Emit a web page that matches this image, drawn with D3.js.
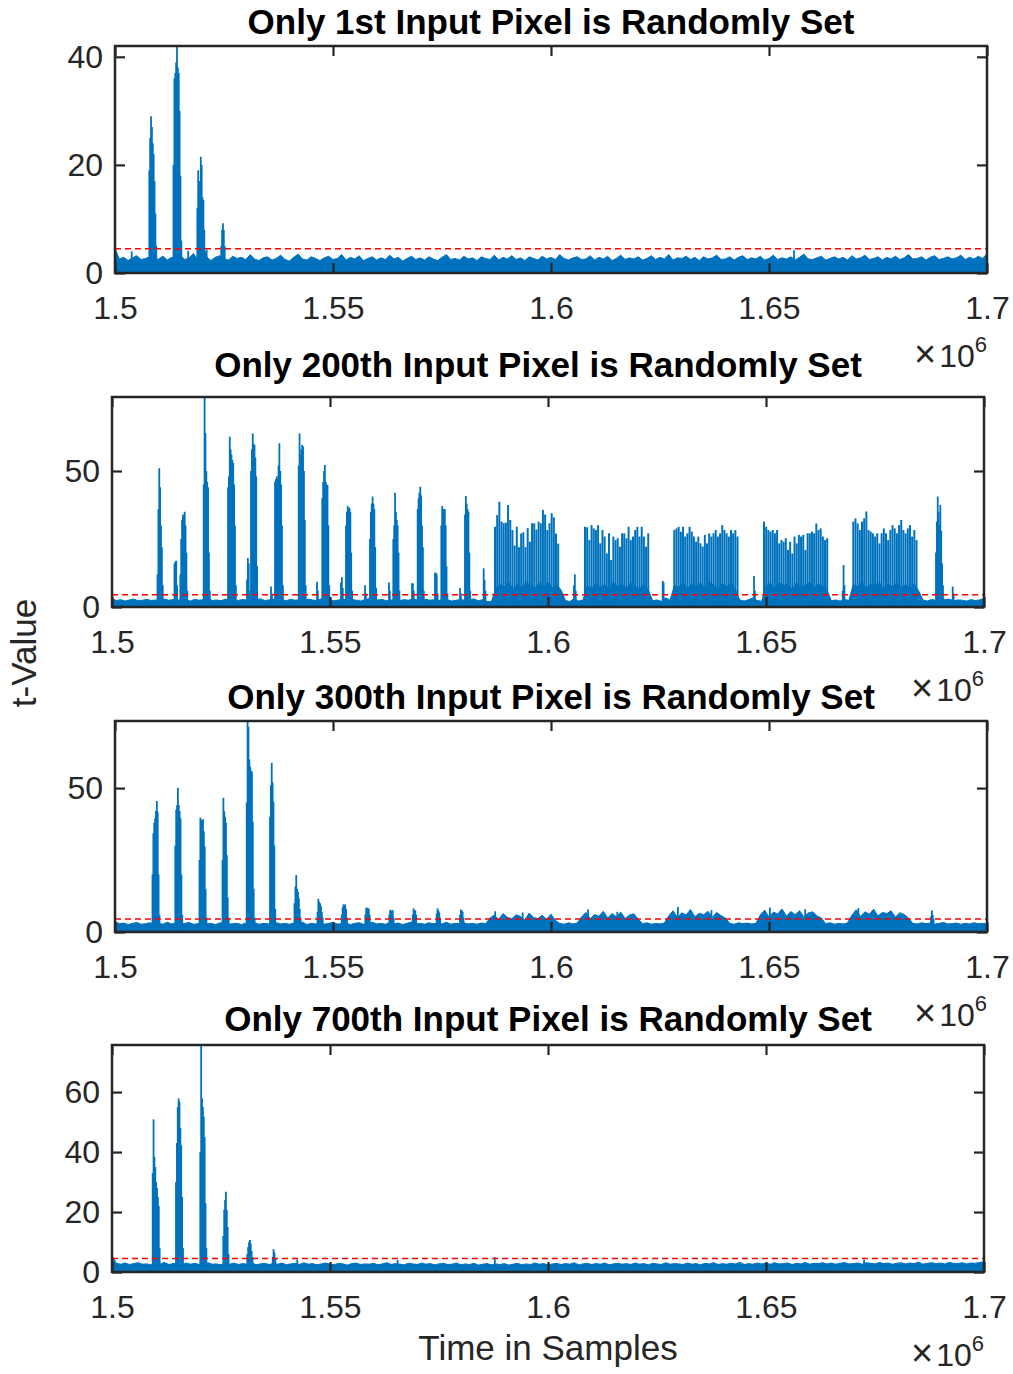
<!DOCTYPE html>
<html>
<head>
<meta charset="utf-8">
<script src="https://cdn.jsdelivr.net/npm/d3@7"></script>
<style>
  body { margin: 0; background: #fff; }
  svg text { font-family: "Liberation Sans", Arial, Helvetica, sans-serif; }
</style>
</head>
<body>
<svg id="chart" width="1013" height="1374"></svg>
<script>
// ---- data (x in units of 1e6 samples) ----
const titles = [
  'Only 1st Input Pixel is Randomly Set',
  'Only 200th Input Pixel is Randomly Set',
  'Only 300th Input Pixel is Randomly Set',
  'Only 700th Input Pixel is Randomly Set'
];
const xDomain = [1.5, 1.7];
const xTicks = [1.5, 1.55, 1.6, 1.65, 1.7];
const yTicks1 = [0, 20, 40];
const yTicks2 = [0, 50];
const yTicks3 = [0, 50];
const yTicks4 = [0, 20, 40, 60];
const threshold = 4.5;

// noise floor envelope, one value every 1000 samples from 1.5e6
const noiseStart = 1.5;
const noiseStep = 0.001;
const noise1 = [
  4.5, 2.6, 2.9, 2.3, 2.8, 3.2, 2.5, 2.7, 3.0, 2.4,
  2.6, 3.1, 2.4, 2.9, 2.7, 3.3, 2.5, 2.8, 3.6, 2.4,
  2.7, 3.0, 2.3, 2.9, 3.2, 2.6, 2.4, 3.1, 2.7, 2.9,
  2.5, 3.4, 2.6, 2.3, 2.8, 3.0, 2.4, 2.7, 3.3, 2.5,
  2.2, 2.9, 3.5, 2.6, 2.4, 3.0, 2.7, 2.3, 2.8, 3.1,
  2.5, 2.7, 3.4, 2.4, 2.9, 2.6, 3.2, 2.3, 2.7, 3.0,
  2.4, 2.8, 2.5, 3.3, 2.6, 2.9, 2.2, 2.7, 3.1, 2.5,
  2.8, 2.4, 3.0, 2.6, 2.3, 2.9, 3.4, 2.5, 2.7, 2.4,
  3.1, 2.6, 2.8, 2.3, 3.0, 2.7, 2.5, 3.3, 2.4, 2.9,
  2.6, 3.2, 2.5, 2.8, 2.3, 3.0, 2.7, 2.4, 3.1, 2.6,
  2.9, 2.5, 3.4, 2.7, 2.4, 2.8, 3.0, 2.5, 2.6, 3.2,
  2.4, 2.9, 2.6, 3.1, 2.3, 2.7, 3.3, 2.5, 2.8, 2.6,
  3.0, 2.4, 2.7, 3.2, 2.5, 2.9, 2.6, 3.4, 2.4, 2.8,
  2.7, 3.1, 2.5, 2.9, 2.3, 3.0, 2.6, 2.8, 3.3, 2.5,
  2.6, 3.0, 2.4, 2.9, 3.2, 2.5, 2.8, 2.6, 3.1, 2.4,
  2.7, 3.3, 2.5, 2.8, 2.6, 3.0, 2.4, 2.9, 3.5, 2.6,
  2.5, 2.8, 3.1, 2.4, 2.7, 3.0, 2.6, 2.9, 2.4, 3.2,
  2.6, 2.8, 3.3, 2.5, 2.7, 3.0, 2.4, 2.9, 2.6, 3.1,
  2.5, 2.8, 3.4, 2.6, 2.7, 3.0, 2.4, 2.9, 3.2, 2.5,
  2.7, 3.0, 2.6, 2.8, 3.3, 2.5, 2.9, 2.6, 3.1, 2.7, 3.6
];
const noise2 = [
  3.0, 2.4, 2.7, 2.2, 2.6, 2.9, 2.3, 2.5, 2.8, 2.4,
  2.6, 2.3, 2.9, 2.5, 2.7, 2.4, 3.0, 2.6, 2.2, 2.8,
  2.5, 2.7, 3.1, 2.4, 2.6, 2.3, 2.9, 2.5, 2.7, 2.4,
  2.8, 2.5, 2.3, 2.7, 3.0, 2.4, 2.6, 2.9, 2.3, 2.6,
  2.4, 2.8, 2.5, 2.7, 2.2, 2.9, 2.6, 2.4, 3.0, 2.5,
  2.7, 2.3, 2.6, 2.9, 2.4, 2.8, 2.5, 2.2, 2.7, 3.1,
  2.4, 2.6, 2.8, 2.3, 2.5, 2.9, 2.4, 2.7, 2.5, 3.0,
  2.6, 2.3, 2.8, 2.5, 2.7, 2.4, 2.9, 2.6, 2.2, 2.5,
  2.8, 2.4, 2.6, 3.0, 2.3, 2.7, 2.1, 1.9,
  6.5, 8.2, 7.4, 9.0, 6.8, 8.5, 7.2, 9.3, 7.8, 6.9, 8.7, 7.5, 9.1, 7.0, 8.4, 6.2,
  2.4, 2.0, 3.1, 2.2, 2.5,
  7.8, 6.9, 8.8, 7.3, 8.1, 6.6, 9.2, 7.5, 8.4, 7.0, 8.9, 7.7, 6.8, 8.3, 6.4,
  2.3, 2.6, 2.1, 3.4, 2.5,
  8.0, 7.2, 9.0, 6.8, 8.5, 7.6, 8.8, 7.1, 9.4, 7.9, 6.7, 8.6, 7.4, 8.9, 6.3,
  2.5, 2.2, 2.7, 3.3, 2.4, 2.1,
  7.6, 8.7, 6.9, 9.1, 7.8, 8.3, 6.6, 8.9, 7.3, 8.0, 9.2, 7.0, 8.4, 7.5, 6.1,
  2.3, 2.6, 2.2, 2.8, 2.4,
  8.2, 7.4, 9.3, 7.0, 8.6, 7.7, 9.0, 6.8, 8.4, 7.5, 8.9, 7.2, 8.1, 6.9, 8.5, 6.0,
  2.6, 2.2, 2.8, 2.4, 3.3, 2.7, 2.9, 2.3, 2.6, 2.5, 2.2, 2.7, 2.4, 2.6, 3.2
];
const noise3 = [
  3.6, 2.9, 3.1, 2.6, 3.0, 3.3, 2.7, 2.9, 3.2, 2.8,
  3.0, 2.7, 3.4, 2.8, 3.1, 2.6, 3.0, 3.3, 2.7, 2.9,
  3.2, 2.8, 3.0, 2.6, 3.1, 3.4, 2.7, 2.9, 3.0, 2.6,
  3.1, 2.8, 3.3, 2.7, 3.0, 2.9, 2.6, 3.2, 2.8, 3.0,
  2.7, 3.1, 2.9, 3.4, 2.6, 3.0, 2.8, 3.2, 2.7, 3.0,
  3.3, 2.8, 2.9, 3.1, 2.6, 3.0, 3.2, 2.7, 2.9, 3.4,
  2.8, 3.0, 2.7, 3.3, 2.9, 3.1, 2.6, 3.0, 3.5, 2.8,
  3.0, 2.7, 3.2, 2.9, 3.1, 2.8, 3.4, 2.7, 3.0, 2.9,
  3.2, 2.8, 3.0, 2.7, 3.1, 2.9,
  4.8, 5.9, 4.3, 6.4, 5.1, 4.6, 6.0, 5.4, 4.2, 6.6, 5.0, 4.7, 5.8, 4.4, 6.2, 4.0,
  3.0, 2.7, 3.2, 2.8, 3.1,
  5.2, 6.8, 4.6, 6.1, 5.5, 7.2, 4.9, 6.4, 5.3, 6.9, 4.7, 5.9, 6.3, 4.5,
  2.9, 3.2, 2.7, 3.0, 2.8, 3.1,
  5.6, 7.4, 5.0, 6.7, 5.9, 7.8, 5.3, 6.5, 6.0, 7.2, 5.1, 6.8, 5.7, 4.8,
  3.0, 2.7, 3.2, 2.9, 3.1, 2.8, 3.0,
  5.9, 7.6, 5.2, 6.9, 6.3, 8.0, 5.5, 7.1, 6.0, 7.4, 5.3, 6.6, 7.0, 5.6, 4.9,
  2.9, 3.2, 2.7, 3.0, 2.8, 3.1,
  5.8, 7.7, 5.4, 7.0, 6.2, 7.9, 5.6, 6.8, 6.4, 7.3, 5.2, 6.7, 6.1, 4.8,
  3.0, 2.8, 3.2, 2.9, 3.1, 2.7, 3.0, 3.3, 2.8, 2.9, 3.1, 2.7, 3.0, 2.8, 3.2, 2.9, 3.0, 2.8
];
const noise4 = [
  5.5, 2.9, 2.6, 3.0, 2.5, 2.8, 3.1, 2.6, 2.7, 2.4,
  2.9, 2.6, 3.2, 2.5, 2.8, 2.7, 2.4, 3.0, 2.6, 2.9,
  2.5, 2.8, 3.1, 2.6, 2.7, 2.4, 2.9, 2.6, 3.0, 2.5,
  2.8, 2.6, 3.2, 2.4, 2.7, 2.9, 2.5, 2.8, 2.6, 3.0,
  2.4, 2.7, 2.9, 2.5, 3.1, 2.6, 2.8, 2.4, 2.7, 3.0,
  2.6, 2.5, 2.9, 2.7, 2.3, 2.8, 3.0, 2.5, 2.7, 2.6,
  2.9, 2.4, 2.7, 3.1, 2.5, 2.8, 2.6, 2.4, 2.9, 2.7,
  2.5, 3.0, 2.6, 2.8, 2.4, 2.7, 2.9, 2.5, 2.6, 3.0,
  2.4, 2.7, 2.5, 2.9, 2.3, 2.6, 2.8, 2.4, 2.7, 2.5,
  2.8, 2.3, 2.6, 2.9, 2.4, 2.7, 2.5, 3.0, 2.6, 2.8,
  2.4, 2.7, 2.9, 2.5, 2.8, 2.6, 3.1, 2.4, 2.7, 2.9,
  2.5, 2.8, 2.6, 3.0, 2.4, 2.7, 2.9, 2.6, 2.8, 2.5,
  3.0, 2.6, 2.8, 2.4, 2.9, 2.7, 2.5, 3.1, 2.6, 2.8,
  2.7, 2.5, 3.0, 2.6, 2.8, 2.4, 2.9, 2.7, 3.1, 2.5,
  2.8, 2.6, 2.9, 2.7, 3.2, 2.5, 2.8, 2.6, 3.0, 2.7,
  2.9, 2.6, 3.1, 2.7, 2.8, 3.0, 2.5, 2.9, 2.7, 3.2,
  2.6, 2.9, 2.8, 3.1, 2.7, 3.0, 2.6, 2.9, 3.2, 2.7,
  2.8, 3.0, 2.6, 3.1, 2.9, 2.7, 3.2, 2.8, 3.0, 2.6,
  2.9, 3.1, 2.7, 3.0, 2.8, 3.3, 2.6, 2.9, 3.1, 2.8,
  3.0, 2.7, 3.2, 2.9, 2.8, 3.1, 2.7, 3.0, 2.9, 3.2, 3.4
];

// bursts: [start, consecutive t-values every 200 samples]
const burstStep = 0.0002;
const bursts1 = [
  [1.50383, [4.0]], [1.50787, [19, 25, 29, 27, 24, 22, 17, 11, 5]],
  [1.51342, [20, 36, 37, 39, 42, 38, 37, 30, 18, 6]],
  [1.51679, [4.1]], [1.51888, [12, 19, 17, 15, 21.5, 20, 14, 13.5, 8, 4]],
  [1.52102, [4.3]], [1.52436, [5, 8, 9.2, 8, 5]], [1.65573, [4.2]]
];
const bursts2 = [
  [1.51044, [12, 36, 51, 44, 30, 22, 8]], [1.51433, [16, 16.7, 17, 8]],
  [1.51567, [12, 25, 32, 34, 33, 35, 30, 20, 6]],
  [1.52103, [45, 77.2, 64, 50, 46, 44, 20, 6]],
  [1.52661, [44, 48, 62.6, 58, 56, 54, 53, 45, 30, 8]], [1.53096, [10, 18, 16, 6]],
  [1.53188, [50, 58, 63.8, 60, 59.6, 55, 48, 15]], [1.53647, [7.5, 5]],
  [1.53739, [46, 47, 48, 47, 52, 60.2, 50, 45, 30, 8]],
  [1.54282, [52, 63.8, 56, 58, 59.6, 59, 50, 32, 8]], [1.54702, [9.3, 6]],
  [1.54823, [40, 46, 50, 52.2, 46, 45, 44.9, 30, 8]], [1.55252, [9, 11, 7]],
  [1.55367, [30, 35, 37.1, 36, 36.5, 35, 20, 6]], [1.55803, [8, 5]],
  [1.55917, [25, 35, 38, 40.6, 38, 36, 22, 7]], [1.56353, [9, 6]],
  [1.56452, [25, 30, 42, 35, 32, 30, 20, 6]], [1.56881, [8.7, 8.7, 6]],
  [1.57011, [36, 40, 42, 44.2, 41, 30, 22, 6]], [1.57408, [12.6, 12.6, 12, 5]],
  [1.57553, [30, 37.1, 36, 35, 36, 30, 15, 5]], [1.57982, [7, 5]],
  [1.58096, [34, 40.8, 38, 36, 35, 20, 6]], [1.58525, [14.2, 10, 6]],
  [1.60596, [8, 12, 6]], [1.62631, [9.6, 9]], [1.64725, [11.4, 6]],
  [1.66759, [6, 15.4, 8]],
  [1.68899, [20, 31.4, 40.6, 35, 30, 37.5, 28, 16, 8]], [1.69282, [7.5, 5]]
];
const bursts3 = [
  [1.5086, [20, 34.3, 38, 39.5, 42, 45.5, 41.7, 20, 6]],
  [1.51383, [30, 42.4, 44, 50.1, 44.1, 42, 39.5, 20, 6]],
  [1.51938, [25, 39.7, 39, 38.5, 39.2, 35, 29.7, 15, 5]],
  [1.52466, [25, 46.6, 42, 40, 38, 26.7, 12, 5]],
  [1.53021, [45, 73.3, 71.3, 60, 57.4, 56, 55.7, 38.3, 15, 5]],
  [1.53555, [40, 51, 58.8, 52, 45.2, 30, 8]],
  [1.54117, [10, 15.8, 19.8, 15, 14, 11.8, 8, 5]],
  [1.54644, [7, 11.5, 10.5, 10, 9, 7, 5]],
  [1.552, [6, 8.5, 9.6, 9.2, 9.6, 8, 5]],
  [1.55741, [6, 8.4, 8.4, 8, 8.2, 6]],
  [1.56291, [6, 7.7, 7.5, 7, 7.6, 5]],
  [1.56828, [6, 8.2, 7.6, 7.5, 6]],
  [1.57378, [6.5, 8.2, 7.5, 6.8, 5]],
  [1.57913, [6, 7.8, 7.5, 7, 5]],
  [1.5872, [7.2]], [1.5935, [6.8]], [1.6085, [7.8]], [1.6152, [7.0]],
  [1.6291, [8.7]], [1.6368, [7.6]], [1.6502, [8.5]], [1.6583, [7.9]],
  [1.6705, [8.3]], [1.6779, [7.4]], [1.68716, [5.5, 7.5, 6, 4.5]]
];
const bursts4 = [
  [1.50933, [33, 50.9, 38.4, 35, 30, 28, 25, 22, 8]],
  [1.51468, [30, 43, 55, 57.9, 56.8, 48, 42.3, 25, 8]],
  [1.52025, [40, 75.7, 57.9, 55, 51.8, 45, 22.9, 8]],
  [1.52553, [12, 20.7, 24, 26.8, 20.7, 15, 6]],
  [1.53103, [6, 8.4, 10, 10.7, 9.5, 7, 5]],
  [1.53686, [5, 7.6, 6.5, 4.5]],
  [1.5425, [4.2]], [1.5655, [4.0]], [1.5878, [5.0]], [1.6725, [4.1]]
];

// dense spike groups of panel 2: [start, t-values every 500 samples]
const clusterStep = 0.0005;
const clusters2 = [
  [1.58784, [29.5, 33.8, 38.7, 31.4, 30.8, 31, 37.5, 32, 28.3, 22.6, 29.5, 22, 27, 27.5, 22,
             29, 24, 30.8, 30.8, 28.5, 31.4, 30.8, 35.7, 34, 28.3, 30.8, 34.5, 33, 27, 23.3]],
  [1.60849, [29.5, 29.3, 24.6, 30.1, 28.9, 28.3, 30.1, 23.4, 28.3, 25.9, 19.7, 27.1, 17.3, 25.9, 24.6,
             25.3, 22.2, 27.1, 27.1, 25.3, 29.5, 24.6, 25.9, 28.3, 29.5, 25.9, 29.5, 25.9, 22.2, 27.1]],
  [1.62897, [28.3, 28.9, 29.5, 27.7, 29.5, 25.9, 27.1, 29.5, 27.7, 25.9, 24.0, 25.9, 23.4, 22.2, 26.5,
             23.4, 27.1, 25.9, 27.1, 28.3, 25.9, 27.1, 30.1, 28.3, 27.1, 25.9, 28.3, 27.1, 28.3, 25.9]],
  [1.64954, [31.4, 29.5, 28.3, 27.7, 28.3, 27.1, 28.3, 23.4, 24.6, 24.0, 25.3, 21.0, 24.0, 19.7, 25.9,
             23.4, 26.5, 25.9, 26.5, 21.0, 27.1, 27.1, 27.7, 27.1, 30.7, 28.3, 28.9, 25.9, 24.6, 25.3]],
  [1.67002, [31.4, 32.6, 30.7, 28.3, 31.4, 32.6, 35.1, 28.3, 27.7, 27.1, 25.9, 27.1, 23.4, 27.1, 28.9,
             27.1, 24.6, 28.3, 30.1, 28.9, 27.1, 30.1, 32.0, 28.3, 27.1, 28.9, 30.1, 25.9, 28.3, 24.6]]
];

// ---- drawing ----
const svg = d3.select('#chart');
const blue = '#0072BD';
const axisColor = '#262626';

const panels = [
  { title: titles[0], noise: noise1, bursts: bursts1, clusters: [], yTicks: yTicks1,
    box: { left: 115, right: 987, top: 46, bottom: 273 }, titleX: 551, titleY: 34 },
  { title: titles[1], noise: noise2, bursts: bursts2, clusters: clusters2, yTicks: yTicks2,
    box: { left: 112, right: 984, top: 397, bottom: 607 }, titleX: 538, titleY: 377 },
  { title: titles[2], noise: noise3, bursts: bursts3, clusters: [], yTicks: yTicks3,
    box: { left: 115, right: 987, top: 721, bottom: 932 }, titleX: 551, titleY: 709 },
  { title: titles[3], noise: noise4, bursts: bursts4, clusters: [], yTicks: yTicks4,
    box: { left: 112, right: 984, top: 1045, bottom: 1272 }, titleX: 548, titleY: 1031 }
];

function spikePoints(groups, step) {
  return groups.flatMap(([start, hs]) => hs.map((h, j) => ({ s: start + j * step, h })));
}

panels.forEach((p, k) => {
  const { left, right, top, bottom } = p.box;
  const x = d3.scaleLinear().domain(xDomain).range([left, right]);
  const burstPts = spikePoints(p.bursts, burstStep);
  const clusterPts = spikePoints(p.clusters, clusterStep);
  const yMax = d3.max(p.noise.concat(burstPts.map(d => d.h), clusterPts.map(d => d.h)));
  const y = d3.scaleLinear().domain([0, yMax]).range([bottom, top]);

  svg.append('clipPath').attr('id', 'clip' + k)
    .append('rect').attr('x', left).attr('y', top - 1)
    .attr('width', right - left).attr('height', bottom - top + 1);

  const g = svg.append('g');
  const plot = g.append('g').attr('clip-path', `url(#clip${k})`);

  // noise floor
  const area = d3.area()
    .x((d, i) => x(noiseStart + i * noiseStep))
    .y0(y(0))
    .y1(d => y(d));
  plot.append('path')
    .datum(p.noise)
    .attr('d', area)
    .attr('fill', blue)
    .attr('stroke', blue)
    .attr('stroke-width', 1);

  // spikes
  plot.selectAll('line.burst')
    .data(burstPts)
    .join('line')
    .attr('class', 'burst')
    .attr('x1', d => x(d.s)).attr('x2', d => x(d.s))
    .attr('y1', y(0)).attr('y2', d => y(d.h))
    .attr('stroke', blue)
    .attr('stroke-width', 1.8);

  plot.selectAll('line.cluster')
    .data(clusterPts)
    .join('line')
    .attr('class', 'cluster')
    .attr('x1', d => x(d.s)).attr('x2', d => x(d.s))
    .attr('y1', y(0)).attr('y2', d => y(d.h))
    .attr('stroke', blue)
    .attr('stroke-width', 2);

  // threshold
  plot.append('line')
    .attr('x1', left).attr('x2', right)
    .attr('y1', y(threshold)).attr('y2', y(threshold))
    .attr('stroke', '#FF0000')
    .attr('stroke-width', 1.5)
    .attr('stroke-dasharray', '6,4');

  // axes (ticks inside, mirrored)
  const styleAxis = sel => {
    sel.select('.domain').remove();
    sel.attr('font-size', 32).attr('font-family', '"Liberation Sans", Arial, Helvetica, sans-serif');
    sel.selectAll('line').attr('stroke', axisColor).attr('stroke-width', 2.2);
    sel.selectAll('text').attr('fill', axisColor);
  };
  g.append('g').attr('transform', `translate(0,${bottom})`)
    .call(d3.axisBottom(x).tickValues(xTicks).tickFormat(d => String(d)).tickSize(-10).tickPadding(23))
    .call(styleAxis);
  g.append('g').attr('transform', `translate(0,${top})`)
    .call(d3.axisTop(x).tickValues(xTicks).tickFormat('').tickSize(-10))
    .call(styleAxis);
  g.append('g').attr('transform', `translate(${left},0)`)
    .call(d3.axisLeft(y).tickValues(p.yTicks).tickSize(-10).tickPadding(12))
    .call(styleAxis);
  g.append('g').attr('transform', `translate(${right},0)`)
    .call(d3.axisRight(y).tickValues(p.yTicks).tickFormat('').tickSize(-10))
    .call(styleAxis);

  g.append('rect')
    .attr('x', left).attr('y', top)
    .attr('width', right - left).attr('height', bottom - top)
    .attr('fill', 'none')
    .attr('stroke', axisColor)
    .attr('stroke-width', 2.5);

  // exponent label
  const ex = g.append('text')
    .attr('x', right).attr('y', bottom + 94)
    .attr('text-anchor', 'end')
    .attr('fill', axisColor)
    .attr('font-size', 32);
  ex.append('tspan').attr('font-size', 38).text('×');
  ex.append('tspan').attr('dx', 3).text('10');
  ex.append('tspan').attr('dy', -15).attr('font-size', 22).text('6');

  // title
  g.append('text')
    .attr('x', p.titleX).attr('y', p.titleY)
    .attr('text-anchor', 'middle')
    .attr('font-size', 35)
    .attr('font-weight', 'bold')
    .attr('fill', '#000')
    .text(p.title);
});

svg.append('text')
  .attr('transform', 'translate(36,653) rotate(-90)')
  .attr('text-anchor', 'middle')
  .attr('font-size', 35)
  .attr('fill', axisColor)
  .text('t-Value');

svg.append('text')
  .attr('x', 548).attr('y', 1360)
  .attr('text-anchor', 'middle')
  .attr('font-size', 35)
  .attr('fill', axisColor)
  .text('Time in Samples');
</script>
</body>
</html>
